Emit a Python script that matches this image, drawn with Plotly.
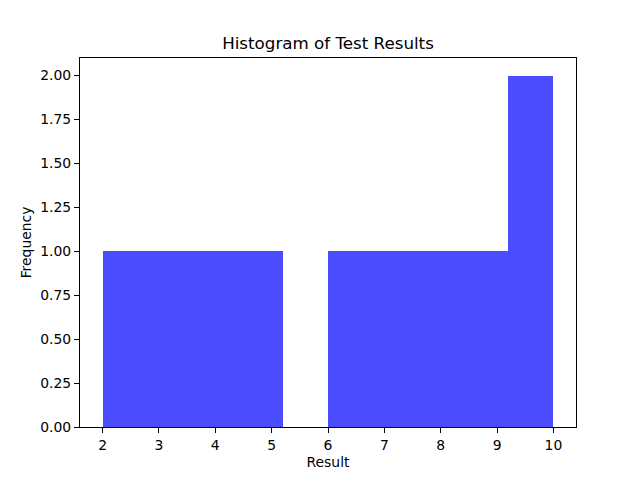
import plotly.graph_objects as go

# histogram of test results, 10 bins between 2 and 10
bin_edges = [2.0, 2.8, 3.6, 4.4, 5.2, 6.0, 6.8, 7.6, 8.4, 9.2, 10.0]
counts = [1, 1, 1, 1, 0, 1, 1, 1, 1, 2]

x_ticks = [2, 3, 4, 5, 6, 7, 8, 9, 10]
y_ticks = [0, 0.25, 0.5, 0.75, 1.0, 1.25, 1.5, 1.75, 2.0]

centers = [(a + b) / 2 for a, b in zip(bin_edges[:-1], bin_edges[1:])]
widths = [b - a for a, b in zip(bin_edges[:-1], bin_edges[1:])]

fig = go.Figure()
fig.add_trace(go.Bar(
    x=centers,
    y=counts,
    width=widths,
    marker=dict(color="rgba(0,0,255,0.7)", line=dict(width=0)),
    showlegend=False,
))

axis_style = dict(
    showgrid=False,
    zeroline=False,
    showline=True,
    linecolor="black",
    linewidth=1,
    mirror=True,
    ticks="outside",
    ticklen=5,
    tickwidth=1,
    tickcolor="black",
    tickfont=dict(size=13.9, color="black"),
)

fig.update_layout(
    width=640,
    height=480,
    paper_bgcolor="white",
    plot_bgcolor="white",
    font=dict(family="DejaVu Sans", color="black"),
    # page body adds an 8px offset, margins compensate for it
    margin=dict(l=72, r=72, t=50, b=61),
    bargap=0,
    title=dict(
        text="Histogram of Test Results",
        x=0.5, xref="paper", xanchor="center",
        y=1 - 35 / 480, yref="container", yanchor="middle",
        font=dict(size=16.7, color="black"),
    ),
    xaxis=dict(
        range=[1.6, 10.4],
        tickvals=x_ticks,
        title=dict(text="Result", font=dict(size=13.9), standoff=5),
        **axis_style,
    ),
    yaxis=dict(
        range=[0, 2.1],
        tickvals=y_ticks,
        tickformat=".2f",
        title=dict(text="Frequency", font=dict(size=13.9), standoff=5),
        **axis_style,
    ),
)

fig.write_html("out.html")
